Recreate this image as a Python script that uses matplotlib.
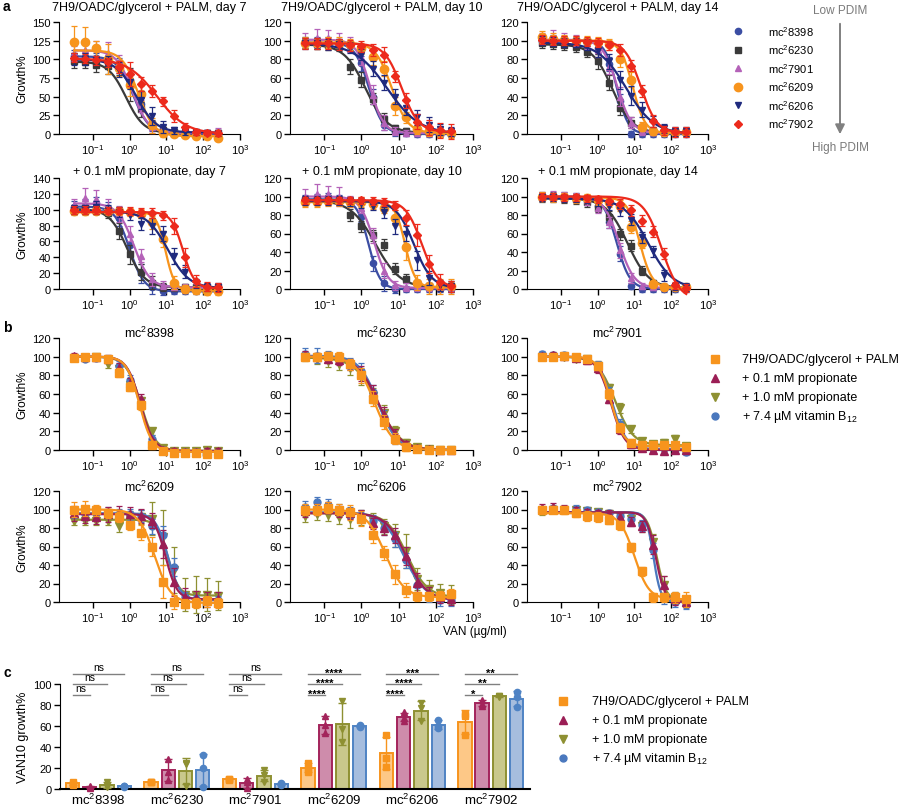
import matplotlib.pyplot as plt
import numpy as np
from matplotlib.ticker import NullLocator

plt.rcParams['font.family'] = ['Liberation Sans', 'DejaVu Sans']
plt.rcParams['mathtext.fontset'] = 'custom'
plt.rcParams['mathtext.rm'] = 'Liberation Sans'
plt.rcParams['mathtext.it'] = 'Liberation Sans:italic'
plt.rcParams['mathtext.bf'] = 'Liberation Sans:bold'
plt.rcParams['axes.unicode_minus'] = False

# ---------------- data ----------------
doses = [0.03125, 0.0625, 0.125, 0.25, 0.5, 1, 2, 4, 8, 16, 32, 64, 128, 256]

strains = ['mc$^2$8398', 'mc$^2$6230', 'mc$^2$7901', 'mc$^2$6209', 'mc$^2$6206', 'mc$^2$7902']
conditions = ['7H9/OADC/glycerol + PALM', '+ 0.1 mM propionate', '+ 1.0 mM propionate',
              '+ 7.4 \u00b5M vitamin B$_{12}$']

a_titles = ['7H9/OADC/glycerol + PALM, day 7', '7H9/OADC/glycerol + PALM, day 10',
            '7H9/OADC/glycerol + PALM, day 14', '+ 0.1 mM propionate, day 7',
            '+ 0.1 mM propionate, day 10', '+ 0.1 mM propionate, day 14']
a_ymax = [150, 120, 120, 140, 120, 120]
a_ystep = [25, 20, 20, 20, 20, 20]

# panel a: one row per strain (8398, 6230, 7901, 6209, 6206, 7902); fit = (top, bottom, EC50, hill)
a_palm_d7 = [[104, 103, 102, 100, 92, 72, 40, 10, 3, 1, 0, 0, 0, 0],
             [98, 97, 93, 91, 89, 66, 33, 14, 5, 3, 2, 2, 1, 1],
             [108, 112, 115, 108, 96, 75, 38, 10, 3, 2, 2, 2, 1, 2],
             [123, 123, 115, 101, 88, 66, 54, 12, 1, 0, -1, -3, -3, -5],
             [101, 100, 99, 98, 86, 70, 45, 24, 9, 5, 3, 3, 2, 1],
             [102, 101, 99, 96, 90, 80, 67, 57, 44, 24, 10, 3, 2, 1]]
a_palm_d7_err = [[8, 8, 6, 6, 10, 10, 8, 6, 4, 3, 3, 3, 3, 3],
                 [10, 8, 10, 10, 10, 22, 10, 5, 4, 3, 3, 3, 3, 3],
                 [10, 12, 10, 15, 10, 12, 8, 8, 5, 4, 4, 4, 4, 6],
                 [22, 20, 10, 20, 10, 15, 10, 10, 5, 3, 3, 3, 3, 3],
                 [8, 8, 6, 6, 10, 10, 12, 12, 8, 5, 4, 4, 4, 4],
                 [6, 6, 6, 6, 8, 16, 10, 8, 6, 8, 5, 4, 4, 4]]
a_palm_d7_fit = [(104, 0, 1.25, 2.0), (97, 1, 0.8, 1.8), (112, 1, 1.2, 2.0),
                 (112, -3, 1.7, 2.0), (100, 2, 1.5, 1.6), (101, 0, 5.5, 1.1)]

a_palm_d10 = [[98, 98, 98, 97, 94, 76, 40, 10, 2, 1, 0, 0, 0, 0],
              [97, 96, 95, 94, 72, 58, 38, 16, 6, 3, 2, 2, 1, 1],
              [100, 103, 103, 100, 96, 82, 42, 12, 3, 1, 1, 1, 1, 1],
              [98, 97, 98, 98, 96, 92, 82, 70, 30, 18, 5, 3, 2, 1],
              [97, 97, 96, 96, 93, 85, 70, 55, 40, 28, 18, 10, 5, 3],
              [97, 97, 97, 96, 95, 94, 90, 85, 62, 36, 13, 7, 4, 3]]
a_palm_d10_err = [[6, 6, 6, 5, 6, 8, 8, 6, 4, 3, 3, 3, 3, 3],
                  [5, 5, 5, 5, 8, 8, 6, 6, 4, 3, 3, 3, 3, 3],
                  [8, 10, 8, 8, 8, 8, 10, 8, 4, 3, 3, 3, 3, 3],
                  [6, 6, 6, 6, 6, 6, 8, 8, 10, 6, 5, 5, 5, 5],
                  [6, 6, 6, 6, 6, 6, 8, 8, 8, 8, 8, 8, 6, 5],
                  [6, 6, 6, 6, 6, 6, 6, 8, 6, 8, 8, 8, 8, 8]]
a_palm_d10_fit = [(98, 0, 1.6, 2.3), (96, 1, 1.3, 1.5), (101, 1, 1.7, 2.4),
                  (98, 1, 6.5, 2.0), (97, 0, 5.0, 1.0), (97, 2, 12.0, 1.9)]

a_palm_d14 = [[100, 101, 100, 99, 97, 92, 75, 35, 0, 0, 0, 0, 0, 0],
              [97, 96, 95, 93, 88, 78, 55, 28, 12, 5, 3, 2, 2, 2],
              [102, 103, 102, 100, 97, 90, 72, 40, 12, 3, 2, 2, 2, 2],
              [104, 102, 101, 100, 100, 99, 96, 80, 58, 8, 3, 2, 2, 2],
              [100, 99, 98, 98, 96, 90, 78, 58, 41, 26, 13, 6, 3, 3],
              [101, 100, 100, 100, 99, 98, 95, 90, 73, 46, 14, 4, 2, 2]]
a_palm_d14_err = [[5, 5, 5, 5, 5, 6, 8, 8, 3, 3, 3, 3, 3, 3],
                  [5, 5, 5, 5, 6, 8, 8, 8, 6, 4, 3, 3, 3, 3],
                  [6, 8, 6, 6, 6, 8, 8, 10, 6, 4, 3, 3, 3, 3],
                  [6, 6, 5, 5, 5, 5, 6, 8, 8, 5, 4, 4, 4, 4],
                  [5, 5, 5, 5, 6, 8, 8, 10, 10, 8, 6, 5, 5, 5],
                  [5, 5, 5, 5, 5, 5, 5, 6, 6, 6, 6, 5, 5, 5]]
a_palm_d14_fit = [(100, 0, 3.3, 2.8), (96, 1, 2.5, 1.6), (101, 1, 3.4, 2.2),
                  (100, 1, 9.0, 2.6), (98, 0, 6.0, 1.15), (100, 1, 15.0, 2.0)]

a_prop_d7 = [[103, 105, 108, 102, 90, 55, 20, 2, -3, -3, -3, -3, -3, -3],
             [100, 102, 101, 96, 73, 44, 21, 8, 3, 2, 2, 2, 2, 2],
             [106, 115, 113, 104, 95, 70, 42, 12, 5, 3, 2, 2, 2, 2],
             [98, 98, 99, 99, 98, 97, 95, 84, 63, 8, 0, -1, -2, -3],
             [100, 100, 103, 100, 97, 93, 82, 80, 70, 42, 22, 7, 3, 2],
             [100, 100, 100, 99, 99, 98, 97, 96, 93, 80, 40, 10, 3, 2]]
a_prop_d7_err = [[8, 8, 8, 8, 10, 12, 12, 8, 5, 3, 3, 3, 3, 3],
                 [6, 6, 6, 6, 10, 12, 10, 8, 5, 4, 4, 4, 4, 4],
                 [8, 12, 12, 10, 10, 10, 8, 8, 5, 4, 4, 4, 4, 4],
                 [5, 5, 5, 5, 5, 5, 6, 8, 10, 8, 5, 5, 5, 5],
                 [6, 6, 8, 6, 6, 6, 8, 10, 10, 10, 8, 6, 5, 5],
                 [5, 5, 5, 5, 5, 5, 5, 6, 6, 10, 12, 8, 6, 6]]
a_prop_d7_fit = [(104, -3, 1.0, 2.2), (101, 2, 0.85, 1.8), (108, 2, 1.3, 2.0),
                 (97, -2, 9.5, 3.5), (98, 1, 11.0, 1.5), (97, 1, 28.0, 2.8)]

a_prop_d10 = [[97, 98, 99, 97, 95, 78, 28, 6, 0, 0, 0, 0, 0, 0],
              [96, 97, 97, 96, 80, 68, 58, 48, 22, 11, 6, 3, 2, 2],
              [100, 103, 103, 100, 95, 88, 58, 20, 4, 2, 2, 2, 2, 2],
              [94, 94, 95, 95, 94, 94, 92, 88, 77, 45, 7, 3, 3, 3],
              [96, 96, 96, 96, 95, 93, 90, 83, 68, 60, 31, 12, 4, 3],
              [96, 96, 96, 96, 96, 96, 95, 94, 90, 77, 58, 27, 8, 3]]
a_prop_d10_err = [[5, 5, 5, 5, 5, 6, 8, 8, 4, 3, 3, 3, 3, 3],
                  [5, 5, 5, 5, 6, 6, 6, 6, 6, 5, 4, 4, 4, 4],
                  [8, 10, 8, 10, 6, 6, 8, 8, 5, 4, 4, 4, 4, 4],
                  [5, 5, 5, 5, 5, 5, 5, 6, 8, 14, 8, 8, 8, 8],
                  [5, 5, 5, 5, 5, 5, 5, 6, 8, 8, 10, 8, 6, 6],
                  [4, 4, 4, 4, 4, 4, 4, 4, 5, 8, 12, 10, 8, 6]]
a_prop_d10_fit = [(97, 0, 1.55, 2.8), (96, 1, 2.4, 1.3), (100, 1, 2.2, 2.3),
                  (94, 2, 15.0, 3.2), (95, 1, 26.0, 1.8), (96, 1, 42.0, 2.0)]

a_prop_d14 = [[100, 100, 100, 99, 96, 90, 72, 38, 3, 0, 0, 0, 0, 0],
              [99, 99, 98, 97, 94, 88, 78, 59, 47, 20, 6, 2, 2, 2],
              [100, 101, 100, 99, 96, 88, 72, 42, 12, 3, 2, 2, 2, 2],
              [100, 99, 99, 98, 98, 96, 94, 90, 67, 50, 5, 2, 2, 2],
              [99, 99, 98, 98, 97, 95, 90, 85, 75, 56, 41, 15, 3, 2],
              [100, 100, 99, 99, 98, 97, 95, 92, 85, 74, 62, 38, 4, 1]]
a_prop_d14_err = [[5, 5, 5, 5, 5, 5, 6, 8, 3, 3, 3, 3, 3, 3],
                  [5, 5, 5, 5, 5, 5, 6, 6, 6, 5, 4, 3, 3, 3],
                  [5, 5, 5, 5, 5, 6, 6, 8, 5, 3, 3, 3, 3, 3],
                  [5, 5, 5, 5, 5, 5, 5, 6, 6, 6, 4, 3, 3, 3],
                  [4, 4, 4, 4, 4, 5, 5, 6, 6, 6, 6, 6, 4, 4],
                  [4, 4, 4, 4, 4, 4, 4, 5, 6, 6, 6, 6, 4, 4]]
a_prop_d14_fit = [(100, 0, 3.3, 2.4), (98, 1, 6.5, 1.5), (100, 1, 3.8, 2.1),
                  (99, 1, 14.0, 2.6), (98, 0, 24.0, 1.3), (100, -12, 55.0, 1.8)]

# panel b: one row per condition (PALM, 0.1 mM, 1.0 mM, B12)
b_8398 = [[99, 100, 100, 97, 83, 68, 48, 5, -1, -3, -3, -3, -4, -4],
          [101, 100, 100, 98, 88, 72, 55, 8, 0, -1, -2, -2, -1, -1],
          [99, 99, 100, 92, 87, 70, 52, 20, 2, -1, -1, -1, 0, -1],
          [99, 98, 99, 98, 90, 75, 50, 12, 0, -2, -2, -2, -3, -3]]
b_8398_err = [[3, 3, 3, 4, 5, 5, 5, 4, 3, 3, 3, 3, 3, 3]] * 4
b_8398_fit = [(100, -2, 1.85, 2.5), (100, -1, 1.95, 2.4), (100, -1, 2.0, 2.2), (100, -2, 1.9, 2.4)]

b_6230 = [[100, 100, 101, 100, 92, 80, 55, 30, 12, 3, 1, 0, 0, 0],
          [102, 100, 98, 96, 92, 82, 62, 38, 17, 6, 2, 1, 0, 0],
          [100, 98, 95, 92, 88, 78, 58, 40, 20, 8, 3, 1, 0, 0],
          [103, 101, 100, 97, 93, 85, 62, 35, 12, 4, 1, 0, 0, 0]]
b_6230_err = [[4, 4, 4, 5, 6, 8, 8, 8, 6, 4, 3, 3, 3, 3],
              [4, 4, 5, 5, 6, 8, 8, 8, 6, 4, 3, 3, 3, 3],
              [5, 6, 6, 6, 8, 8, 8, 8, 6, 4, 3, 3, 3, 3],
              [6, 8, 6, 5, 6, 8, 8, 8, 6, 4, 3, 3, 3, 3]]
b_6230_fit = [(100, 0, 2.3, 1.7), (100, 0, 2.9, 1.5), (99, 0, 2.8, 1.4), (101, 0, 2.8, 1.7)]

b_7901 = [[100, 100, 101, 100, 98, 90, 60, 24, 8, 5, 5, 5, 5, 3],
          [101, 102, 101, 99, 96, 88, 55, 22, 6, 2, 0, -1, 0, 0],
          [100, 100, 100, 98, 97, 90, 66, 45, 22, 10, 6, 8, 12, 4],
          [103, 102, 102, 100, 97, 90, 62, 28, 6, 3, 2, 2, 1, -2]]
b_7901_err = [[3, 3, 3, 3, 3, 4, 5, 5, 4, 3, 3, 3, 3, 3],
              [3, 3, 3, 3, 4, 5, 5, 5, 4, 3, 3, 3, 3, 3],
              [3, 3, 3, 3, 4, 5, 5, 5, 4, 3, 3, 4, 4, 3],
              [3, 3, 3, 3, 4, 5, 5, 5, 4, 3, 3, 3, 3, 3]]
b_7901_fit = [(100, 4, 2.3, 2.5), (100, 0, 2.3, 2.3), (100, 5, 3.0, 1.8), (100, 1, 2.5, 2.3)]

b_6209 = [[100, 101, 99, 96, 92, 83, 75, 60, 22, 0, -2, -1, 1, -1],
          [96, 93, 92, 95, 96, 95, 93, 88, 63, 22, 5, 4, 3, 3],
          [88, 88, 88, 88, 82, 90, 92, 90, 70, 35, 8, 8, 8, 7],
          [97, 95, 96, 97, 95, 95, 93, 82, 72, 38, 5, 3, 2, 2]]
b_6209_err = [[8, 8, 6, 5, 5, 5, 8, 10, 18, 8, 5, 5, 6, 5],
              [8, 8, 8, 8, 8, 8, 8, 8, 15, 15, 10, 8, 8, 8],
              [5, 5, 5, 5, 6, 8, 8, 18, 30, 25, 18, 20, 18, 16],
              [6, 6, 6, 6, 6, 6, 6, 8, 10, 10, 6, 5, 5, 5]]
b_6209_fit = [(100, -1, 4.8, 2.0), (95, 3, 9.5, 2.8), (89, 7, 11.0, 3.0), (96, 2, 11.0, 2.6)]

b_6206 = [[100, 100, 102, 100, 97, 90, 72, 53, 30, 13, 6, 6, 7, 9],
          [98, 100, 102, 98, 96, 93, 85, 80, 72, 50, 21, 10, 5, 3],
          [93, 95, 94, 92, 90, 91, 88, 82, 72, 55, 25, 14, 10, 8],
          [103, 108, 105, 100, 97, 94, 88, 80, 68, 45, 18, 6, 2, 2]]
b_6206_err = [[6, 6, 6, 6, 8, 8, 8, 8, 10, 8, 5, 5, 5, 5],
              [6, 6, 6, 6, 6, 6, 6, 8, 8, 10, 10, 6, 6, 6],
              [6, 6, 6, 8, 10, 8, 8, 8, 12, 18, 12, 10, 10, 10],
              [6, 6, 6, 6, 6, 6, 6, 8, 8, 8, 8, 6, 6, 6]]
b_6206_fit = [(100, 5, 4.3, 1.7), (96, 2, 16.0, 1.6), (96, 5, 17.0, 1.6), (97, 2, 14.0, 1.5)]

b_7902 = [[99, 100, 99, 96, 93, 92, 89, 83, 59, 33, 5, 5, 5, 3],
          [102, 103, 101, 99, 97, 96, 95, 92, 87, 82, 62, 18, 3, 0],
          [98, 100, 100, 99, 98, 97, 95, 93, 90, 82, 65, 18, 5, 2],
          [100, 101, 100, 101, 99, 97, 96, 93, 90, 83, 56, 4, 0, -3]]
b_7902_err = [[4, 4, 4, 4, 5, 5, 5, 5, 5, 5, 5, 5, 6, 8],
              [4, 4, 4, 4, 4, 4, 4, 4, 5, 6, 10, 10, 6, 5],
              [4, 4, 4, 4, 4, 4, 4, 4, 5, 6, 8, 10, 6, 5],
              [4, 4, 4, 4, 4, 4, 4, 4, 5, 6, 8, 6, 5, 5]]
b_7902_fit = [(96, 3, 10.0, 2.2), (97, 0, 38.0, 3.5), (97, 2, 40.0, 3.5), (97, 0, 33.0, 4.5)]

# panel c: replicate VAN10 growth% per strain, per condition
c_palm = [[7, 5, 4], [7, 7, 7], [10, 10, 9], [25, 20, 16], [51, 30, 21], [71, 70, 51]]
c_prop01 = [[3, 2, 1], [29, 16, 9], [10, 7, 1], [70, 61, 53], [73, 68, 65], [85, 81, 79]]
c_prop10 = [[7, 3, 2], [25, 24, 3], [18, 13, 7], [84, 57, 45], [82, 77, 65], [89, 89, 88]]
c_b12 = [[3, 3, 2], [32, 20, 2], [6, 5, 4], [61, 60, 59], [66, 60, 58], [92, 88, 78]]
c_sig = [['ns', 'ns', 'ns'], ['ns', 'ns', 'ns'], ['ns', 'ns', 'ns'],
         ['****', '****', '****'], ['****', '****', '***'], ['*', '**', '**']]

# ---------------- styles ----------------
a_styles = [('#3B4DA3', 'o', 4.5), ('#3A3A3A', 's', 5), ('#B462B8', '^', 5),
            ('#F7941D', 'o', 6), ('#1F2A7E', 'v', 5), ('#EC2A1C', 'D', 4)]
b_styles = [('#F7941D', 's', 5.5), ('#9B1E55', '^', 5.5), ('#8E9032', 'v', 5.5), ('#4A78BE', 'o', 5)]
c_edge = ['#F7941D', '#A3245B', '#8E9032', '#4F83C4']
c_fill = ['#FDC887', '#CE8CAB', '#C9C88C', '#A6BDDE']
c_mark = ['s', '^', 'v', 'o']

W, H = 900, 812


def box(x0, y0, x1, y1):
    return [x0 / W, 1 - y1 / H, (x1 - x0) / W, (y1 - y0) / H]


def logistic(x, top, bottom, ec50, hill):
    return bottom + (top - bottom) / (1 + (x / ec50) ** hill)


def dose_panel(ax, pts, errs, fits, styles, ymax, ystep):
    xs = np.logspace(np.log10(doses[0]), np.log10(doses[-1]), 200)
    for i in range(len(pts)):
        col, mk, ms = styles[i]
        z = 3 + i
        ax.errorbar(doses, pts[i], yerr=errs[i], fmt='none', ecolor=col, elinewidth=0.9,
                    capsize=2.5, capthick=0.9, clip_on=False, zorder=z)
        ax.plot(xs, logistic(xs, *fits[i]), color=col, lw=1.6, clip_on=False, zorder=z)
        ax.plot(doses, pts[i], mk, color=col, ms=ms, clip_on=False, zorder=z)
    ax.set_xscale('log')
    ax.set_xlim(0.012, 1000)
    ax.set_xticks([0.1, 1, 10, 100, 1000])
    ax.xaxis.set_minor_locator(NullLocator())
    ax.set_ylim(0, ymax)
    ax.set_yticks(np.arange(0, ymax + 1, ystep))
    for s in ['top', 'right']:
        ax.spines[s].set_visible(False)
    ax.tick_params(direction='out', length=4, width=1, labelsize=8, pad=2)


fig = plt.figure(figsize=(9, 8.12), dpi=100)
ov = fig.add_axes([0, 0, 1, 1], zorder=10)
ov.set_xlim(0, W)
ov.set_ylim(H, 0)
ov.axis('off')

cols = [(59, 240), (290, 473), (527, 708)]

# panel a
a_rows = [(23, 135), (179, 290)]
a_title_y = [8, 172]
a_pts = [a_palm_d7, a_palm_d10, a_palm_d14, a_prop_d7, a_prop_d10, a_prop_d14]
a_err = [a_palm_d7_err, a_palm_d10_err, a_palm_d14_err, a_prop_d7_err, a_prop_d10_err, a_prop_d14_err]
a_fit = [a_palm_d7_fit, a_palm_d10_fit, a_palm_d14_fit, a_prop_d7_fit, a_prop_d10_fit, a_prop_d14_fit]
for k in range(6):
    r, c = divmod(k, 3)
    ax = fig.add_axes(box(cols[c][0], a_rows[r][0], cols[c][1], a_rows[r][1]))
    dose_panel(ax, a_pts[k], a_err[k], a_fit[k], a_styles, a_ymax[k], a_ystep[k])
    if c == 0:
        ax.set_ylabel('Growth%', fontsize=8.5, labelpad=3)
    ov.text((cols[c][0] + cols[c][1]) / 2, a_title_y[r], a_titles[k], ha='center', va='center', fontsize=9)

# legend a
for i, name in enumerate(strains):
    col, mk, ms = a_styles[i]
    y = 32 + i * 18.5
    ov.plot(738, y, mk, color=col, ms=ms)
    ov.text(768, y, name, va='center', fontsize=8)
ov.annotate('', xy=(840, 138), xytext=(840, 22),
            arrowprops=dict(arrowstyle='-|>', color='#808080', lw=1.4, mutation_scale=14))
ov.text(840, 11, 'Low PDIM', ha='center', va='center', fontsize=8.5, color='#7a7a7a')
ov.text(840, 148, 'High PDIM', ha='center', va='center', fontsize=8.5, color='#7a7a7a')

# panel b
b_rows = [(339, 451), (492, 603)]
b_title_y = [333, 487]
b_pts = [b_8398, b_6230, b_7901, b_6209, b_6206, b_7902]
b_err = [b_8398_err, b_6230_err, b_7901_err, b_6209_err, b_6206_err, b_7902_err]
b_fit = [b_8398_fit, b_6230_fit, b_7901_fit, b_6209_fit, b_6206_fit, b_7902_fit]
b_order = [2, 3, 1, 0]  # draw order: olive, blue, maroon, orange on top
for k in range(6):
    r, c = divmod(k, 3)
    ax = fig.add_axes(box(cols[c][0], b_rows[r][0], cols[c][1], b_rows[r][1]))
    dose_panel(ax, [b_pts[k][j] for j in b_order], [b_err[k][j] for j in b_order],
               [b_fit[k][j] for j in b_order], [b_styles[j] for j in b_order], 120, 20)
    if c == 0:
        ax.set_ylabel('Growth%', fontsize=8.5, labelpad=3)
    ov.text((cols[c][0] + cols[c][1]) / 2, b_title_y[r], strains[k], ha='center', va='center', fontsize=9)
ov.text(475, 632, 'VAN (\u00b5g/ml)', ha='center', va='center', fontsize=8.5)

for i, name in enumerate(conditions):
    col, mk, ms = b_styles[i]
    y = 360 + i * 19
    ov.plot(715, y, mk, color=col, ms=ms)
    ov.text(742, y, name, va='center', fontsize=9)

# panel c
axc = fig.add_axes(box(60, 685, 530, 790))
c_sets = [c_palm, c_prop01, c_prop10, c_b12]
offs = [-0.33, -0.11, 0.11, 0.33]
bw = 0.17
for j in range(4):
    reps = np.array(c_sets[j], dtype=float)
    means = reps.mean(axis=1)
    sds = reps.std(axis=1, ddof=1)
    xs = np.arange(len(strains)) + offs[j]
    axc.bar(xs, means, width=bw, color=c_fill[j], edgecolor=c_edge[j], linewidth=1.4, zorder=2)
    axc.errorbar(xs, means, yerr=sds, fmt='none', ecolor=c_edge[j], elinewidth=1,
                 capsize=3, capthick=1, zorder=3, clip_on=False)
    for g in range(len(strains)):
        axc.plot([xs[g]] * 3, reps[g], c_mark[j], color=c_edge[j], ms=4.5, zorder=4, clip_on=False)
for g in range(len(strains)):
    for m in range(3):
        yl = 90 + 10 * m
        x0, x1 = g + offs[0], g + offs[m + 1]
        axc.plot([x0, x1], [yl, yl], color='#808080', lw=1, clip_on=False)
        lab = c_sig[g][m]
        if lab == 'ns':
            axc.text((x0 + x1) / 2, yl + 1.5, lab, ha='center', va='bottom', fontsize=7.5)
        else:
            axc.text((x0 + x1) / 2, yl - 4, lab, ha='center', va='bottom', fontsize=8, fontweight='bold')
axc.set_xlim(-0.49, 5.5)
axc.set_ylim(0, 100)
axc.set_yticks(np.arange(0, 101, 20))
axc.set_xticks(np.arange(len(strains)))
axc.set_xticklabels(strains, fontsize=9.5)
axc.tick_params(axis='x', length=0, pad=2)
axc.tick_params(axis='y', direction='out', length=4, width=1, labelsize=8, pad=2)
axc.spines['bottom'].set_linewidth(1.5)
for s in ['top', 'right']:
    axc.spines[s].set_visible(False)
axc.set_ylabel('VAN10 growth%', fontsize=9, labelpad=3)

for i, name in enumerate(conditions):
    y = 702 + i * 19
    ov.plot(563, y, c_mark[i], color=b_styles[i][0], ms=b_styles[i][2])
    ov.text(592, y, name, va='center', fontsize=9)

ov.text(3, 7, 'a', fontsize=10, fontweight='bold', va='center')
ov.text(3, 328, 'b', fontsize=10, fontweight='bold', va='center')
ov.text(3, 673, 'c', fontsize=10, fontweight='bold', va='center')

fig.savefig('out.png', dpi=100)
